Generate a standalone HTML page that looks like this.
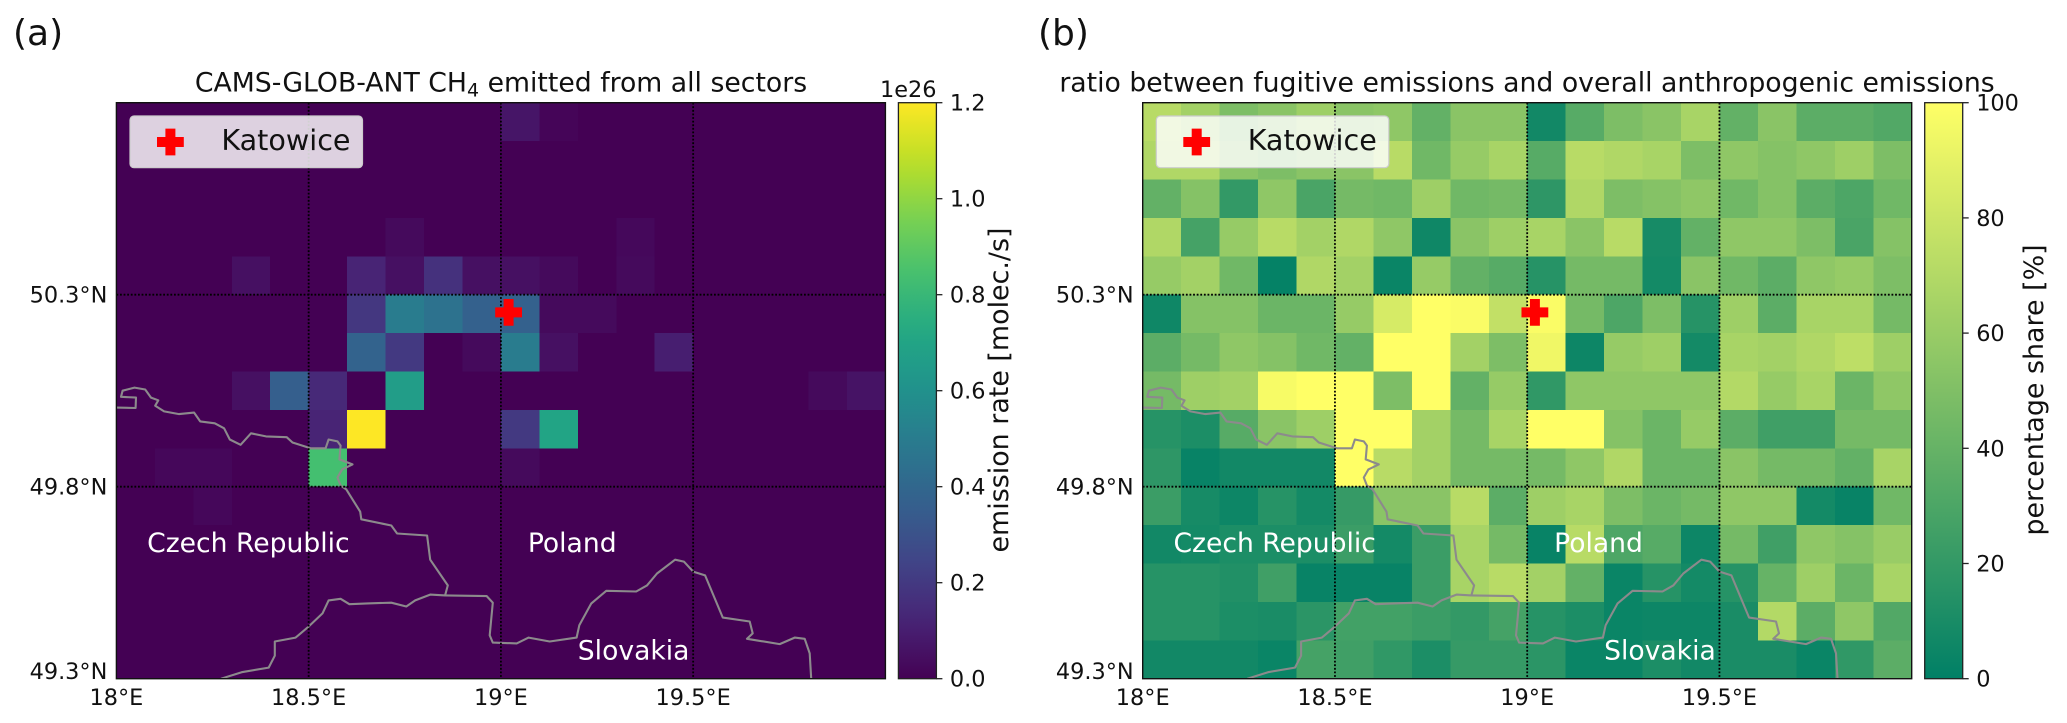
<!DOCTYPE html>
<html lang="en">
<head>
<meta charset="utf-8">
<title>CAMS-GLOB-ANT CH4 emissions and fugitive share</title>
<style>
html,body{margin:0;padding:0;background:#fff;}
svg{display:block;font-family:"DejaVu Sans","Liberation Sans",sans-serif;fill:#111;}
</style>
</head>
<body>
<svg id="figure" xmlns="http://www.w3.org/2000/svg" width="2067" height="723" viewBox="0 0 2067 723"></svg>
<script>
// ---------- data ----------
const lonTicks = [18, 18.5, 19, 19.5];
const lonTickLabels = ["18°E", "18.5°E", "19°E", "19.5°E"];
const latTicks = [50.3, 49.8, 49.3];
const latTickLabels = ["50.3°N", "49.8°N", "49.3°N"];
const emissionTicks = [0, 0.2, 0.4, 0.6, 0.8, 1.0, 1.2];
const emissionTickLabels = ["0.0", "0.2", "0.4", "0.6", "0.8", "1.0", "1.2"];
const shareTicks = [0, 20, 40, 60, 80, 100];
const shareTickLabels = ["0", "20", "40", "60", "80", "100"];

// Emission rate in units of 1e26 molec./s, north to south, west to east
const emissionRows = [
 [0,0,0,0,0,0,0,0,0,0,.07,.015,0,0,0,0,0,0,0,0],
 [0,0,0,0,0,0,0,0,0,0,0,0,0,0,0,0,0,0,0,0],
 [0,0,0,0,0,0,0,0,0,0,0,0,0,0,0,0,0,0,0,0],
 [0,0,0,0,0,0,0,.03,0,0,0,0,0,.025,0,0,0,0,0,0],
 [0,0,0,.05,0,0,.12,.05,.17,.05,.05,.03,0,.03,0,0,0,0,0,0],
 [0,0,0,0,0,0,.19,.5,.45,.37,.37,.03,.03,0,0,0,0,0,0,0],
 [0,0,0,0,0,0,.38,.2,0,.03,.5,.05,0,0,.1,0,0,0,0,0],
 [0,0,0,.05,.36,.14,0,.66,0,0,0,0,0,0,0,0,0,0,.03,.06],
 [0,0,0,0,0,.12,1.2,0,0,0,.2,.7,0,0,0,0,0,0,0,0],
 [0,.02,.02,0,0,.84,0,0,0,0,.03,0,0,0,0,0,0,0,0,0],
 [0,0,.02,0,0,0,0,0,0,0,0,0,0,0,0,0,0,0,0,0],
 [0,0,0,0,0,0,0,0,0,0,0,0,0,0,0,0,0,0,0,0],
 [0,0,0,0,0,0,0,0,0,0,0,0,0,0,0,0,0,0,0,0],
 [0,0,0,0,0,0,0,0,0,0,0,0,0,0,0,0,0,0,0,0],
 [0,0,0,0,0,0,0,0,0,0,0,0,0,0,0,0,0,0,0,0]
];

// Fugitive share of anthropogenic emissions in %, north to south, west to east
const shareRows = [
 [72,64,49,54,62,54,56,39,54,54,7,34,49,54,66,39,54,36,36,32],
 [69,69,54,49,54,54,72,44,59,66,34,72,69,66,49,56,52,56,62,49],
 [39,52,20,56,29,46,44,62,44,46,18,69,49,52,56,44,52,36,30,44],
 [69,27,59,72,64,69,56,6,54,62,66,54,72,9,39,56,56,49,29,52],
 [59,64,44,2,69,64,4,59,39,34,15,46,46,8,54,44,36,56,59,49],
 [6,52,52,42,42,59,84,100,98,76,98,46,30,49,15,62,36,66,66,46],
 [36,46,56,52,44,39,100,100,64,49,94,5,59,62,8,66,64,69,74,62],
 [46,62,64,97,100,100,49,100,39,59,19,56,56,56,56,70,59,66,42,56],
 [15,11,34,54,62,100,100,64,46,66,100,100,52,42,59,36,25,25,46,46],
 [18,3,7,7,7,100,72,64,46,46,46,56,69,42,42,54,46,46,39,66],
 [23,9,5,15,8,21,54,54,72,36,62,66,49,42,46,56,56,8,3,44],
 [7,8,11,11,11,23,8,23,66,46,3,72,30,34,5,46,25,56,52,60],
 [15,15,13,25,3,3,3,23,66,72,64,39,4,15,8,15,40,62,42,66],
 [15,15,11,10,17,26,26,23,20,27,15,11,4,5,5,10,70,36,56,32],
 [7,7,7,4,27,25,19,11,21,21,17,4,4,11,7,10,10,4,19,36]
];

// National borders as lon/lat vertices
const borderCzechPoland = [
 [18.000,50.006],[18.050,50.005],[18.051,50.032],[18.012,50.034],[18.016,50.050],[18.047,50.058],[18.075,50.053],
 [18.090,50.032],[18.109,50.025],[18.101,50.011],[18.124,49.996],[18.163,49.989],[18.202,49.993],[18.218,49.970],
 [18.256,49.965],[18.280,49.952],[18.295,49.923],[18.323,49.909],[18.350,49.939],[18.389,49.931],[18.443,49.929],
 [18.458,49.915],[18.505,49.900],[18.544,49.900],[18.552,49.923],[18.575,49.918],[18.583,49.907],[18.580,49.871],
 [18.614,49.858],[18.587,49.845],[18.575,49.824],[18.583,49.803],[18.598,49.793],[18.634,49.735],[18.637,49.715],
 [18.715,49.699],[18.730,49.678],[18.808,49.673],[18.816,49.610],[18.862,49.543],[18.855,49.517],[18.816,49.519],
 [18.777,49.504],[18.754,49.488],[18.715,49.498],[18.653,49.496],[18.606,49.494],[18.583,49.508],[18.552,49.504],
 [18.536,49.470],[18.497,49.433],[18.466,49.407],[18.412,49.397],[18.412,49.360],[18.396,49.329],[18.326,49.317],
 [18.272,49.300]
];
const borderPolandSlovakia = [
 [18.855,49.517],[18.963,49.515],[18.979,49.498],[18.971,49.413],[18.979,49.394],[19.041,49.392],[19.072,49.407],
 [19.127,49.397],[19.197,49.407],[19.204,49.439],[19.235,49.496],[19.274,49.529],[19.352,49.527],[19.380,49.543],
 [19.406,49.574],[19.453,49.610],[19.476,49.605],[19.500,49.579],[19.531,49.569],[19.577,49.459],[19.647,49.449],
 [19.655,49.418],[19.640,49.404],[19.725,49.390],[19.764,49.407],[19.790,49.404],[19.803,49.366],[19.807,49.300]
];
const katowice = [19.02, 50.254];
const countryNames = ["Czech Republic", "Poland", "Slovakia"];
const countryLons = [18.08, 19.07, 19.2];
const countryLats = [49.63, 49.63, 49.35];

// ---------- colour maps ----------
const viridisStops = ["#440154","#482475","#414487","#355f8d","#2a788e","#21918c","#22a884","#44bf70","#7ad151","#bddf26","#fde725"];
function hexRgb(h){return [1,3,5].map(function(i){return parseInt(h.substr(i,2),16);});}
function viridis(t){
  t=Math.max(0,Math.min(1,t));
  const p=t*(viridisStops.length-1), i=Math.min(viridisStops.length-2,Math.floor(p)), f=p-i;
  const a=hexRgb(viridisStops[i]), b=hexRgb(viridisStops[i+1]);
  return "rgb("+a.map(function(v,k){return Math.round(v+(b[k]-v)*f);}).join(",")+")";
}
function summer(t){
  t=Math.max(0,Math.min(1,t));
  return "rgb("+Math.round(255*t)+","+Math.round(127.5+127.5*t)+",102)";
}

// ---------- helpers ----------
const NS="http://www.w3.org/2000/svg";
const root=document.getElementById("figure");
function mk(parent,tag,attrs,txt){
  const el=document.createElementNS(NS,tag);
  for(const k in attrs){el.setAttribute(k,attrs[k]);}
  if(txt!==undefined){el.textContent=txt;}
  parent.appendChild(el);
  return el;
}

const mapTop=102.7, mapBottom=678.7, mapW=769;
const defs=mk(root,"defs",{});

function drawPanel(p){
  const xOf=function(lon){return p.left+(lon-18)/2*mapW;};
  const yOf=function(lat){return mapTop+(50.8-lat)/1.5*(mapBottom-mapTop);};
  const vOf=function(v){return mapBottom-(v-p.vmin)/(p.vmax-p.vmin)*(mapBottom-mapTop);};

  const clipId="clip-"+p.id;
  const cp=mk(defs,"clipPath",{id:clipId});
  mk(cp,"rect",{x:p.left,y:mapTop,width:mapW,height:mapBottom-mapTop});

  const g=mk(root,"g",{});
  
  

  // heatmap
  const cells=mk(g,"g",{"shape-rendering":"crispEdges"});
  
  
  p.rows.forEach(function(row,r){
    row.forEach(function(v,c){
      const lonW=18+c*0.1, latN=50.8-r*0.1;
      const cell=mk(cells,"rect",{
        x:xOf(lonW).toFixed(2),
        y:yOf(latN).toFixed(2),
        width:(xOf(lonW+0.1)-xOf(lonW)+0.6).toFixed(2),
        height:(yOf(latN-0.1)-yOf(latN)+0.6).toFixed(2),
        fill:p.cmap((v-p.vmin)/(p.vmax-p.vmin)),
        "clip-path":"url(#"+clipId+")"
      });
      
      
    });
  });

  // borders
  [borderCzechPoland,borderPolandSlovakia].forEach(function(line,i){
    const b=mk(g,"polyline",{
      points:line.map(function(q){return xOf(q[0]).toFixed(1)+","+yOf(q[1]).toFixed(1);}).join(" "),
      fill:"none",stroke:"#8c8a8c","stroke-width":2.1,"stroke-linejoin":"round",
      "clip-path":"url(#"+clipId+")"
    });
    
    
  });

  // gridlines
  lonTicks.slice(1).forEach(function(lon){
    const l=mk(g,"line",{x1:xOf(lon),x2:xOf(lon),y1:mapTop,y2:mapBottom,stroke:"#000","stroke-width":1.8,"stroke-dasharray":"1.8 1.8"});
    
    
  });
  latTicks.slice(0,2).forEach(function(lat){
    const l=mk(g,"line",{x1:p.left,x2:p.left+mapW,y1:yOf(lat),y2:yOf(lat),stroke:"#000","stroke-width":1.8,"stroke-dasharray":"1.8 1.8"});
    
    
  });

  // Katowice marker
  const crossPath=function(cx,cy){
    const a=13.4,t=5;
    return "M"+(cx-t)+" "+(cy-a)+"H"+(cx+t)+"V"+(cy-t)+"H"+(cx+a)+"V"+(cy+t)+"H"+(cx+t)+"V"+(cy+a)+"H"+(cx-t)+"V"+(cy+t)+"H"+(cx-a)+"V"+(cy-t)+"H"+(cx-t)+"Z";
  };
  const mark=mk(g,"path",{d:crossPath(xOf(katowice[0]),yOf(katowice[1])),fill:"#ff0000"});
  
  

  // legend
  const lg=mk(g,"g",{});
  
  
  const box=mk(lg,"rect",{x:p.left+13.6,y:116,width:232.5,height:51.7,rx:4,ry:4,fill:"#ffffff","fill-opacity":0.82,stroke:"#cccccc","stroke-width":1.2});
  
  
  const lm=mk(lg,"path",{d:crossPath(p.left+54,142),fill:"#ff0000"});
  
  
  const lt=mk(lg,"text",{x:p.left+105,y:150,"font-size":28.6},"Katowice");
  
  

  // country labels
  countryNames.forEach(function(name,i){
    const t=mk(g,"text",{x:xOf(countryLons[i]),y:yOf(countryLats[i]),"font-size":26.6,fill:"#ffffff"},name);
    
    
  });

  // frame
  const frame=mk(g,"rect",{x:p.left,y:mapTop,width:mapW,height:mapBottom-mapTop,fill:"none",stroke:"#111","stroke-width":1.4});
  
  

  // axis tick labels
  lonTicks.forEach(function(lon,i){
    const t=mk(g,"text",{x:xOf(lon),y:705,"font-size":22.4,"text-anchor":"middle"},lonTickLabels[i]);
    
    
  });
  latTicks.forEach(function(lat,i){
    const y=i===2?679:yOf(lat)+8;
    const t=mk(g,"text",{x:p.left-9,y:y,"font-size":22.4,"text-anchor":"end"},latTickLabels[i]);
    
    
  });

  // colorbar
  const cbX=p.left+mapW+13, cbW=38;
  const gradId="grad-"+p.id;
  const grad=mk(defs,"linearGradient",{id:gradId,x1:0,y1:1,x2:0,y2:0});
  for(let i=0;i<=24;i++){
    mk(grad,"stop",{offset:(i/24).toFixed(4),"stop-color":p.cmap(i/24)});
  }
  const cb=mk(g,"g",{});
  
  
  const bar=mk(cb,"rect",{x:cbX,y:mapTop,width:cbW,height:mapBottom-mapTop,fill:"url(#"+gradId+")",stroke:"#222","stroke-width":1.3});
  
  
  p.ticks.forEach(function(v,i){
    const tk=mk(cb,"line",{x1:cbX+cbW,x2:cbX+cbW+6,y1:vOf(v),y2:vOf(v),stroke:"#222","stroke-width":1.3});
    
    
    const lb=mk(cb,"text",{x:cbX+cbW+13.5,y:vOf(v)+8,"font-size":22.4},p.tickLabels[i]);
    
    
  });
  const cbT=mk(cb,"text",{"transform":"translate("+p.cbLabelX+" 390) rotate(-90)","font-size":p.cbLabelSize,"text-anchor":"middle"},p.cbLabel);
  
  
}

drawPanel({id:"emission",left:116.4,rows:emissionRows,cmap:viridis,vmin:0,vmax:1.2,
  ticks:emissionTicks,tickLabels:emissionTickLabels,cbLabel:"emission rate [molec./s]",cbLabelX:1008,cbLabelSize:26.9});
drawPanel({id:"share",left:1142.7,rows:shareRows,cmap:summer,vmin:0,vmax:100,
  ticks:shareTicks,tickLabels:shareTickLabels,cbLabel:"percentage share [%]",cbLabelX:2043,cbLabelSize:26.9});
</script>
<script>
(function(){
  const svg=document.getElementById("figure");
  const add=function(html){svg.insertAdjacentHTML("beforeend",html);};
  add('<text x="13" y="45" font-size="36">(a)</text>');
  add('<text x="1038" y="45" font-size="36">(b)</text>');
  add('<text x="501" y="91.5" font-size="26.7" text-anchor="middle">CAMS-GLOB-ANT CH<tspan dy="5" font-size="19">4</tspan><tspan dy="-5"> emitted from all sectors</tspan></text>');
  add('<text x="1527" y="91.5" font-size="26.7" text-anchor="middle">ratio between fugitive emissions and overall anthropogenic emissions</text>');
  add('<text x="936.5" y="97" font-size="22.4" text-anchor="end">1e26</text>');
})();
</script>
</body>
</html>
